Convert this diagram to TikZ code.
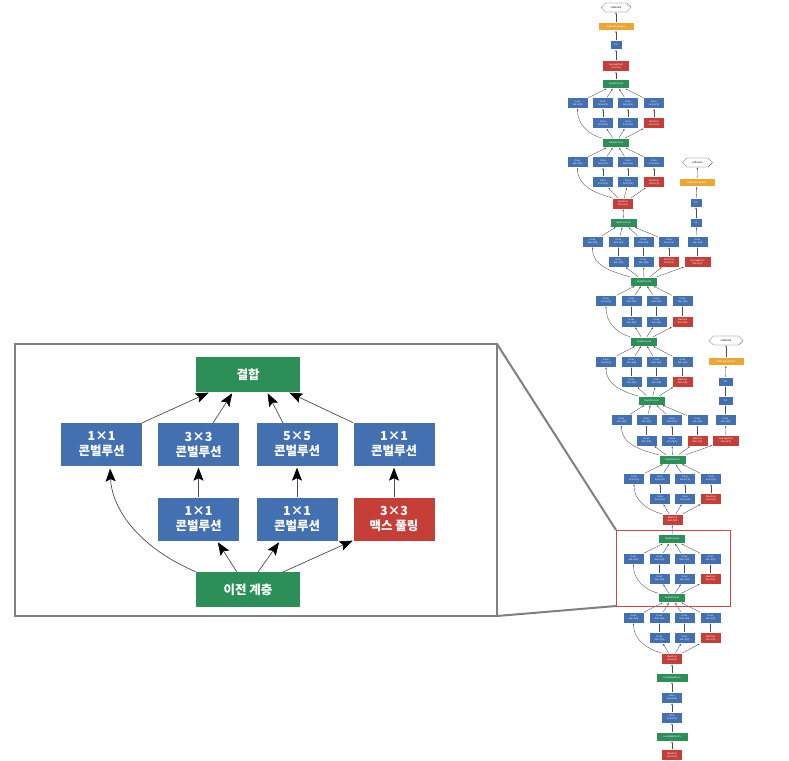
\documentclass[tikz,border=0pt]{standalone}
\usepackage{fontspec}
\setmainfont{Liberation Sans}
\newfontfamily\kr{Noto Sans CJK KR}
\usetikzlibrary{arrows.meta,shapes.misc}
\definecolor{gblue}{RGB}{66,112,176}
\definecolor{ggreen}{RGB}{44,143,88}
\definecolor{gred}{RGB}{198,62,56}
\definecolor{gorange}{RGB}{236,166,52}
\definecolor{framegray}{RGB}{128,128,128}
\definecolor{zoomred}{RGB}{200,70,70}
\tikzset{
  sm/.style={minimum width=21pt, minimum height=11pt, inner sep=0pt, text=white,
    font=\fontsize{2.4}{2.9}\selectfont, align=center, draw=white, line width=0.3pt},
  sconv/.style={sm, fill=gblue},
  spool/.style={sm, fill=gred},
  scat/.style={sm, fill=ggreen, minimum width=27pt, minimum height=9pt},
  sorange/.style={sm, fill=gorange, minimum width=36pt, minimum height=8pt},
  soct/.style={chamfered rectangle, chamfered rectangle xsep=3pt, draw=black!70,
    line width=0.3pt, fill=white, minimum width=30pt, minimum height=9pt, inner sep=0pt,
    font=\fontsize{2.6}{3}\selectfont},
  sarr/.style={-{Latex[length=2pt,width=1.6pt]}, draw=black!70, line width=0.35pt},
  big/.style={minimum width=81pt, minimum height=43pt, inner sep=0pt, text=white,
    font=\kr\bfseries\fontsize{12.5}{15}\selectfont, align=center},
  bconv/.style={big, fill=gblue},
  bpool/.style={big, fill=gred},
  bcat/.style={big, fill=ggreen, minimum width=104pt, minimum height=35pt},
  barr/.style={-{Stealth[length=13pt,width=10pt,inset=2.5pt,color=black]}, draw=black!70,
    line width=0.7pt, shorten >=1.5pt}
}
% inception module: #1 prefix, #2 y row1, #3 y row2, #4-#7 x, #8 bottom, #9 top
\newcommand\incep[9]{%
  \node[sconv] (#1a) at (#4,#2) {Conv\\1x1+1(S)};
  \node[sconv] (#1b) at (#5,#2) {Conv\\3x3+1(S)};
  \node[sconv] (#1c) at (#6,#2) {Conv\\5x5+1(S)};
  \node[sconv] (#1d) at (#7,#2) {Conv\\1x1+1(S)};
  \node[sconv] (#1e) at (#5,#3) {Conv\\1x1+1(S)};
  \node[sconv] (#1f) at (#6,#3) {Conv\\1x1+1(S)};
  \node[spool] (#1g) at (#7,#3) {MaxPool\\3x3+1(S)};
  \draw[sarr] (#8.north west) to[out=165,in=-90] (#1a.south);
  \draw[sarr] (#8) -- (#1e);
  \draw[sarr] (#8) -- (#1f);
  \draw[sarr] (#8) -- (#1g);
  \draw[sarr] (#1e) -- (#1b);
  \draw[sarr] (#1f) -- (#1c);
  \draw[sarr] (#1g) -- (#1d);
  \draw[sarr] (#1a) -- (#9);
  \draw[sarr] (#1b) -- (#9);
  \draw[sarr] (#1c) -- (#9);
  \draw[sarr] (#1d) -- (#9);
}
\begin{document}
\begin{tikzpicture}[x=1pt,y=-1pt]
\useasboundingbox (0,0) rectangle (789,760);
\clip (0,0) rectangle (789,760);
\fill[white] (0,0) rectangle (789,760);

% ---------- GoogLeNet ----------
\node[spool] (mp0) at (672,755) {MaxPool\\3x3+2(S)};
\node[scat, minimum width=32pt] (lrn0) at (672,736.5) {LocalRespNorm};
\node[sconv] (c0) at (672,717.5) {Conv\\1x1+1(V)};
\node[sconv] (c1) at (672,697.5) {Conv\\3x3+1(S)};
\node[scat, minimum width=32pt] (lrn1) at (672,677.5) {LocalRespNorm};
\node[spool] (mp1) at (672,658.5) {MaxPool\\3x3+2(S)};
\draw[sarr] (mp0) -- (lrn0);
\draw[sarr] (lrn0) -- (c0);
\draw[sarr] (c0) -- (c1);
\draw[sarr] (c1) -- (lrn1);
\draw[sarr] (lrn1) -- (mp1);

\node[scat] (dc3a) at (672,598) {DepthConcat};
\node[scat] (dc3b) at (672,539) {DepthConcat};
\node[spool] (mp2) at (672.5,519.5) {MaxPool\\3x3+2(S)};
\node[scat] (dc4a) at (672.5,459.5) {DepthConcat};
\node[scat] (dc4b) at (651.5,400.5) {DepthConcat};
\node[scat] (dc4c) at (644,341.5) {DepthConcat};
\node[scat] (dc4d) at (644,281.5) {DepthConcat};
\node[scat] (dc4e) at (623.5,222.5) {DepthConcat};
\node[spool] (mp3) at (623,203.5) {MaxPool\\3x3+2(S)};
\node[scat] (dc5a) at (616,143) {DepthConcat};
\node[scat] (dc5b) at (616,84) {DepthConcat};
\node[spool, minimum width=27pt] (ap2) at (616,66) {AveragePool\\7x7+1(V)};
\node[sconv, minimum width=12pt, minimum height=9pt] (fc2) at (616,45) {FC};
\node[sorange] (sa2) at (616,26.5) {SoftmaxActivation};
\node[soct] (sm2) at (616,7.5) {softmax2};
\draw[sarr] (dc3b) -- (mp2);
\draw[sarr] (dc4e) -- (mp3);
\draw[sarr] (dc5b) -- (ap2);
\draw[sarr] (ap2) -- (fc2);
\draw[sarr] (fc2) -- (sa2);
\draw[sarr] (sa2) -- (sm2);

\incep{iiia}{617.5}{638}{633.5}{659.5}{684.5}{710.5}{mp1}{dc3a}
\incep{iiib}{558.5}{578.5}{633.5}{659.5}{684.5}{710.5}{dc3a}{dc3b}
\incep{iva}{478.5}{498.5}{634}{660}{685}{711}{mp2}{dc4a}
\incep{ivb}{420}{440.5}{621.5}{646.5}{672}{697.5}{dc4a}{dc4b}
\incep{ivc}{361.5}{381.5}{606}{631.5}{656.5}{682.5}{dc4b}{dc4c}
\incep{ivd}{300.5}{321.5}{606}{631.5}{656.5}{682.5}{dc4c}{dc4d}
\incep{ive}{241.5}{261.5}{592.5}{618.5}{643.5}{669}{dc4d}{dc4e}
\incep{va}{162}{182}{577.5}{603}{628}{654}{mp3}{dc5a}
\incep{vb}{103}{123}{577.5}{603}{628}{654}{dc5a}{dc5b}

% side branch 0
\node[spool, minimum width=27pt] (ap0) at (726,440.5) {AveragePool\\5x5+3(V)};
\node[sconv] (sc0) at (725.5,420) {Conv\\1x1+1(S)};
\node[sconv, minimum width=15pt, minimum height=9pt] (fa0) at (725.5,400.5) {FC};
\node[sconv, minimum width=15pt, minimum height=9pt] (fb0) at (725.5,381.5) {FC};
\node[sorange] (sa0) at (726,361.5) {SoftmaxActivation};
\node[soct, minimum width=34pt] (sm0) at (726,340.5) {softmax0};
\draw[sarr] (dc4a) -- (ap0);
\draw[sarr] (ap0) -- (sc0);
\draw[sarr] (sc0) -- (fa0);
\draw[sarr] (fa0) -- (fb0);
\draw[sarr] (fb0) -- (sa0);
\draw[sarr] (sa0) -- (sm0);

% side branch 1
\node[spool, minimum width=27pt] (ap1) at (697.5,262) {AveragePool\\5x5+3(V)};
\node[sconv] (sc1) at (697.5,241.5) {Conv\\1x1+1(S)};
\node[sconv, minimum width=12pt, minimum height=9pt] (fa1) at (696,222.5) {FC};
\node[sconv, minimum width=12pt, minimum height=9pt] (fb1) at (696,202.5) {FC};
\node[sorange] (sa1) at (697,182.5) {SoftmaxActivation};
\node[soct] (sm1) at (697.5,162.5) {softmax1};
\draw[sarr] (dc4d) -- (ap1);
\draw[sarr] (ap1) -- (sc1);
\draw[sarr] (sc1) -- (fa1);
\draw[sarr] (fa1) -- (fb1);
\draw[sarr] (fb1) -- (sa1);
\draw[sarr] (sa1) -- (sm1);

% zoom marker
\draw[zoomred, line width=1pt] (616,530) rectangle (730,606);
\coordinate (zt) at (616,530);
\coordinate (zb) at (616,606);

% ---------- inset ----------
\draw[framegray, line width=2pt, fill=white] (15,344) rectangle (497,616);
\coordinate (ft) at (497,344);
\coordinate (fb) at (497,616);
\draw[framegray, line width=2pt] (ft) -- (zt);
\draw[framegray, line width=2pt] (fb) -- (zb);

\node[bcat] (concat) at (248,374.5) {결합};
\node[bconv] (r1a) at (101.5,444.5) {1×1\\콘벌루션};
\node[bconv] (r1b) at (198.5,444.5) {3×3\\콘벌루션};
\node[bconv] (r1c) at (297,444.5) {5×5\\콘벌루션};
\node[bconv] (r1d) at (394,444.5) {1×1\\콘벌루션};
\node[bconv] (r2b) at (198.5,519) {1×1\\콘벌루션};
\node[bconv] (r2c) at (297,519) {1×1\\콘벌루션};
\node[bpool] (r2d) at (394,519) {3×3\\맥스 풀링};
\node[bcat] (prev) at (248,589.5) {이전 계층};

% connector end points on the node borders
\coordinate (pa) at (237,572);
\coordinate (pb) at (258,572);
\coordinate (pc) at (283,572);
\coordinate (ea) at (110,467);
\coordinate (eb) at (217,541);
\coordinate (ec) at (280,541);
\coordinate (ed) at (354,540);
\coordinate (ta) at (210,392);
\coordinate (tb) at (233,392);
\coordinate (tc) at (267,392);
\coordinate (td) at (288,392);
\coordinate (sb) at (213,423);
\coordinate (sc) at (283,423);

\draw[barr] (prev.north west) .. controls (140,548) and (112,510) .. (ea);
\draw[barr] (pa) -- (eb);
\draw[barr] (pb) -- (ec);
\draw[barr] (pc) -- (ed);
\draw[barr] (r2b) -- (r1b);
\draw[barr] (r2c) -- (r1c);
\draw[barr] (r2d) -- (r1d);
\draw[barr] (r1a.north east) -- (ta);
\draw[barr] (sb) -- (tb);
\draw[barr] (sc) -- (tc);
\draw[barr] (r1d.north west) -- (td);
\end{tikzpicture}
\end{document}
